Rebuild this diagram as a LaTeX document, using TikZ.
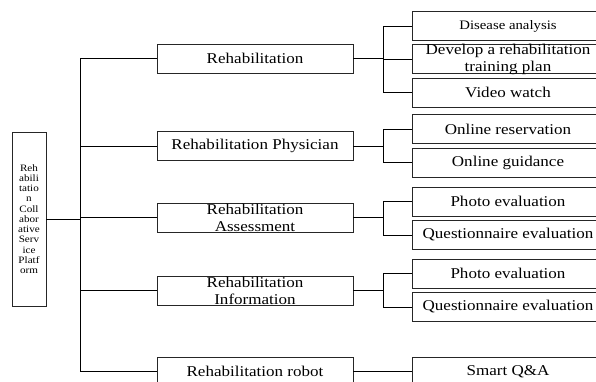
\documentclass[tikz,border=0pt]{standalone}
\usepackage{fontspec}
\setmainfont[FakeStretch=1.14]{Liberation Serif}
\usetikzlibrary{shapes,positioning}

\begin{document}
\begin{tikzpicture}[x=1bp, y=-1bp]
		\tikzstyle{Box}		= [draw=black!85, line width=0.9bp, inner sep=0pt, minimum height=29bp, align=center, font=\fontsize{15}{17}\selectfont]
		\tikzstyle{Mid}		= [Box, minimum width=196bp]
		\tikzstyle{Leaf}	= [Box, minimum width=192bp]
		\tikzstyle{Root}	= [Box, minimum width=34bp, minimum height=174bp, font=\fontsize{9.8}{10.3}\selectfont]
		\tikzstyle{Tight}	= [inner ysep=-1.5bp]
		\tikzstyle{Link}	= [black, line width=0.8bp]

		\useasboundingbox (0,0) rectangle (596,381);
		\clip (0,0) rectangle (596,381);

		\node (plat) at (29, 219) [Root] {Reh\\abili\\tatio\\n\\Coll\\abor\\ative\\Serv\\ice\\Platf\\orm};

		\node (reh)   at (255, 58.5)  [Mid] {Rehabilitation};
		\node (phys)  at (255, 146)   [Mid] {Rehabilitation Physician};
		\node (asmt)  at (255, 217.5) [Mid][Tight] {Rehabilitation\\Assessment};
		\node (info)  at (255, 290.5) [Mid][Tight] {Rehabilitation\\Information};
		\node (robot) at (255, 371.5) [Mid] {Rehabilitation robot};

		\node (dis)  at (508, 26)    [Leaf][font=\fontsize{13}{15}\selectfont] {Disease analysis};
		\node (dev)  at (508, 59)    [Leaf][Tight] {Develop a rehabilitation\\training plan};
		\node (vid)  at (508, 92.5)  [Leaf] {Video watch};
		\node (res)  at (508, 129)   [Leaf] {Online reservation};
		\node (gui)  at (508, 162.5) [Leaf] {Online guidance};
		\node (pho1) at (508, 201.5) [Leaf] {Photo evaluation};
		\node (que1) at (508, 235)   [Leaf] {Questionnaire evaluation};
		\node (pho2) at (508, 273.5) [Leaf] {Photo evaluation};
		\node (que2) at (508, 307)   [Leaf] {Questionnaire evaluation};
		\node (qa)   at (508, 371.5) [Leaf] {Smart Q\&A};

		\coordinate (trunk) at (80, 0);
		\coordinate (fork)  at (383, 0);

		\draw [-] (plat.east) to (plat.east -| trunk) [Link];
		\draw [-] (reh.west -| trunk) to (robot.west -| trunk) [Link];
		\foreach \m in {reh, phys, asmt, info, robot}
			\draw [-] (\m.west -| trunk) to (\m.west) [Link];
		\foreach \m in {reh, phys, asmt, info, robot}
			\draw [-] (\m.east) to (\m.east -| fork) [Link];

		\draw [-] (dis.west -| fork) to (vid.west -| fork) [Link];
		\draw [-] (res.west -| fork) to (gui.west -| fork) [Link];
		\draw [-] (pho1.west -| fork) to (que1.west -| fork) [Link];
		\draw [-] (pho2.west -| fork) to (que2.west -| fork) [Link];
		\foreach \c in {dis, dev, vid, res, gui, pho1, que1, pho2, que2, qa}
			\draw [-] (\c.west -| fork) to (\c.west) [Link];
	\end{tikzpicture}
\end{document}
